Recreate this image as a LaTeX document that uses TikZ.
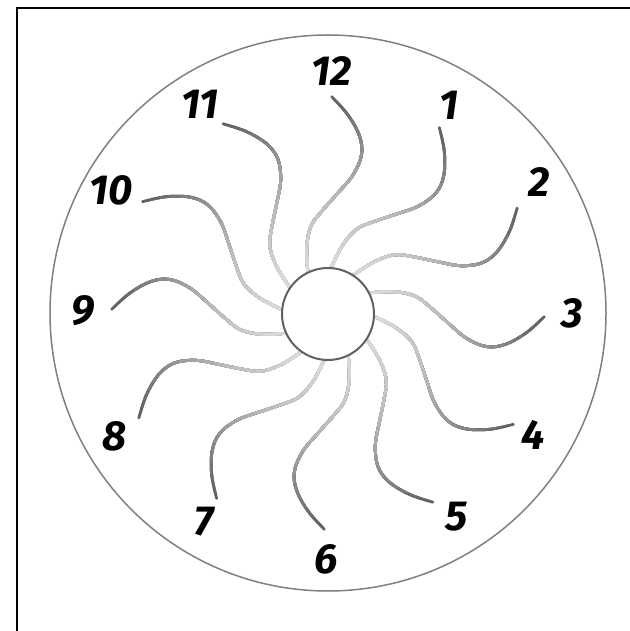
\documentclass[tikz,border=0pt]{standalone}
\usepackage{fontspec}
\setmainfont{Fira Sans}
\begin{document}
\begin{tikzpicture}[x=1pt,y=1pt,
  arm/.style={line width=2.8pt, line cap=round},
  num/.style={font=\fontsize{42}{42}\selectfont\bfseries\itshape, inner sep=0pt, text=black}]
\useasboundingbox (-328,-318) rectangle (301,313);
\fill[white] (-328,-318) rectangle (301,313);
\draw[line width=1.5pt] (-311,-320) -- (-311,305) -- (303,305);
\draw[black!50, line width=1.5pt] (0,0) circle (278);
\def\armpath{plot[smooth, tension=0.6] coordinates {(-19.8,37) (-21.3,65) (-17,87) (-6,102) (9,119) (25,138) (33.5,158) (31.5,177) (20,198) (3.7,216.3)}}
\foreach \k in {0,...,11}{
  \begin{scope}[rotate=-30*\k]
    \draw[arm, black!62] \armpath;
    \foreach \r [evaluate=\r as \p using {int(15+47*((\r-45)/170)^1.6)}] in {212,204,...,52}{
      \begin{scope}
        \clip (0,0) circle (\r);
        \draw[arm, black!\p] \armpath;
      \end{scope}
    }
  \end{scope}
}
\draw[black!62, line width=2pt, fill=white] (0,-1) circle (46);
\node[num] (n12) at (4,242) {12};
\node[num] (n1) at (121,208) {1};
\node[num] (n2) at (211,131) {2};
\node[num] (n3) at (244,0) {3};
\node[num] (n4) at (205,-122) {4};
\node[num] (n5) at (129,-204) {5};
\node[num] (n6) at (-2,-246) {6};
\node[num] (n7) at (-124,-209) {7};
\node[num] (n8) at (-214,-123) {8};
\node[num] (n9) at (-245,2) {9};
\node[num] (n10) at (-217,123) {10};
\node[num] (n11) at (-128,209) {11};
\end{tikzpicture}
\end{document}
